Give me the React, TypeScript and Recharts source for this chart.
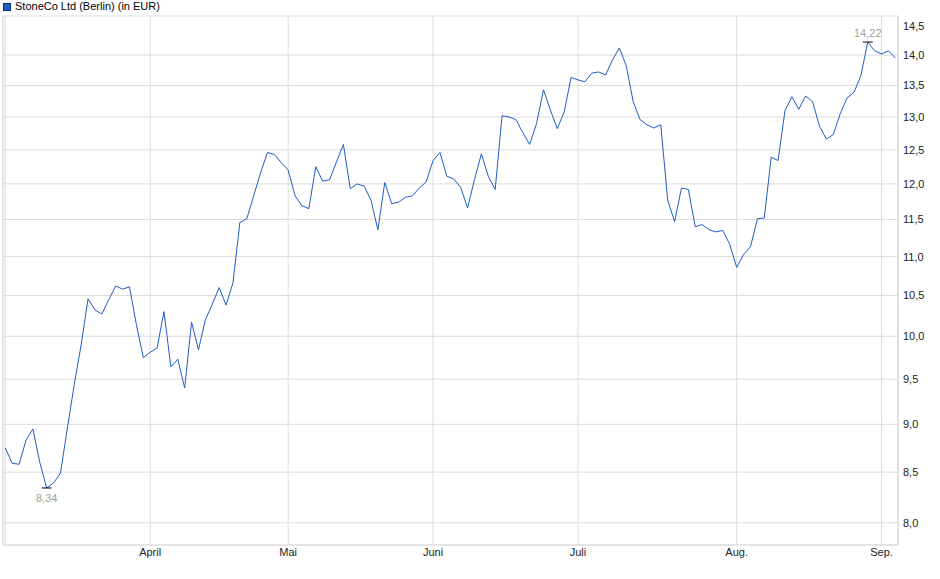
import React from 'react';
import { LineChart, Line, XAxis, YAxis, CartesianGrid, ReferenceArea } from 'recharts';

// daily closing prices, StoneCo Ltd (Berlin), EUR
const prices: number[] = [
  8.75, 8.59, 8.58, 8.83, 8.95, 8.6, 8.34, 8.39, 8.49, 8.96,
  9.44, 9.9, 10.46, 10.32, 10.27, 10.45, 10.62, 10.58, 10.61, 10.14,
  9.75, 9.81, 9.86, 10.3, 9.64, 9.73, 9.4, 10.17, 9.84, 10.2,
  10.39, 10.6, 10.38, 10.66, 11.46, 11.51, 11.83, 12.16, 12.46, 12.43,
  12.31, 12.2, 11.83, 11.69, 11.65, 12.25, 12.04, 12.06, 12.32, 12.58,
  11.93, 12.0, 11.97, 11.77, 11.36, 12.02, 11.72, 11.74, 11.81, 11.83,
  11.94, 12.03, 12.34, 12.46, 12.11, 12.07, 11.95, 11.66, 12.06, 12.44,
  12.11, 11.92, 13.02, 13.0, 12.96, 12.76, 12.58, 12.9, 13.43, 13.11,
  12.82, 13.08, 13.63, 13.59, 13.56, 13.7, 13.72, 13.67, 13.92, 14.12,
  13.82, 13.24, 12.96, 12.88, 12.83, 12.88, 11.77, 11.47, 11.94, 11.92,
  11.4, 11.43, 11.36, 11.33, 11.35, 11.16, 10.86, 11.03, 11.13, 11.51,
  11.52, 12.39, 12.34, 13.1, 13.32, 13.12, 13.33, 13.24, 12.86, 12.66,
  12.73, 13.05, 13.3, 13.39, 13.66, 14.22, 14.07, 14.02, 14.07, 13.95,
];

// index of the first trading day of each month
const monthTicks = [0, 21, 41, 62, 83, 106, 127];
const monthLabels = ['', 'April', 'Mai', 'Juni', 'Juli', 'Aug.', 'Sep.'];

const priceTicks = [8, 8.5, 9, 9.5, 10, 10.5, 11, 11.5, 12, 12.5, 13, 13.5, 14, 14.5];
const gridTicks = priceTicks.slice(0, -1);

const data = prices.map((price, i) => ({ i, price }));
const minIdx = prices.indexOf(Math.min(...prices));
const maxIdx = prices.indexOf(Math.max(...prices));

const fmt = (v: number, digits: number) => v.toFixed(digits).replace('.', ',');
const font = '"Liberation Sans", Arial, sans-serif';
const gridColor = '#dcdcdc';
const xDomain: [number, number] = [-0.33, 129.38];
const yDomain: [number, number] = [7.79, 14.67];

const renderExtreme = (props: any) => {
  const { cx, cy, index } = props;
  if (index !== minIdx && index !== maxIdx) return <g key={`d${index}`} />;
  const isMax = index === maxIdx;
  return (
    <g key={`d${index}`}>
      <line x1={cx - 5} x2={cx + 5} y1={cy} y2={cy} stroke="#000" strokeWidth={1} />
      <text
        x={cx}
        y={isMax ? cy - 5 : cy + 14}
        textAnchor="middle"
        fontSize={11}
        fontFamily={font}
        fill="#a0a0a0"
      >
        {fmt(prices[index], 2)}
      </text>
    </g>
  );
};

export default function App() {
  return (
    <div style={{ position: 'absolute', left: 0, top: 0, width: 940, height: 579, background: '#fff', fontFamily: font }}>
      <div style={{ position: 'absolute', left: 3, top: 1, display: 'flex', alignItems: 'center', fontSize: 11, color: '#000', lineHeight: '11px' }}>
        <span style={{ display: 'inline-block', width: 6, height: 6, background: '#1f5cc4', border: '1px solid #0d2f73', marginRight: 4 }} />
        <span>StoneCo Ltd (Berlin) (in EUR)</span>
      </div>
      <LineChart width={940} height={579} data={data} margin={{ top: 16, right: 0, bottom: 0, left: 3 }}>
        <CartesianGrid stroke={gridColor} horizontalValues={gridTicks} />
        <ReferenceArea
          x1={xDomain[0]}
          x2={xDomain[1]}
          y1={yDomain[0]}
          y2={yDomain[1]}
          fill="none"
          stroke={gridColor}
          ifOverflow="visible"
        />
        <XAxis
          dataKey="i"
          type="number"
          domain={xDomain}
          allowDataOverflow
          ticks={monthTicks}
          tickFormatter={(v: number) => monthLabels[monthTicks.indexOf(v)] ?? ''}
          interval={0}
          height={34}
          tickLine={false}
          tickSize={0}
          tickMargin={3}
          axisLine={{ stroke: gridColor }}
          tick={{ fontSize: 11, fill: '#222', fontFamily: font }}
        />
        <YAxis
          orientation="right"
          type="number"
          scale="log"
          domain={yDomain}
          allowDataOverflow
          ticks={priceTicks}
          interval={0}
          tickFormatter={(v: number) => fmt(v, 1)}
          width={42}
          tickLine={false}
          tickSize={0}
          tickMargin={5}
          axisLine={{ stroke: gridColor }}
          tick={{ fontSize: 11, fill: '#222', fontFamily: font, textAnchor: 'start' }}
        />
        <Line
          type="linear"
          dataKey="price"
          stroke="#1f5cc4"
          strokeWidth={1}
          dot={renderExtreme}
          activeDot={false}
          isAnimationActive={false}
        />
      </LineChart>
    </div>
  );
}
